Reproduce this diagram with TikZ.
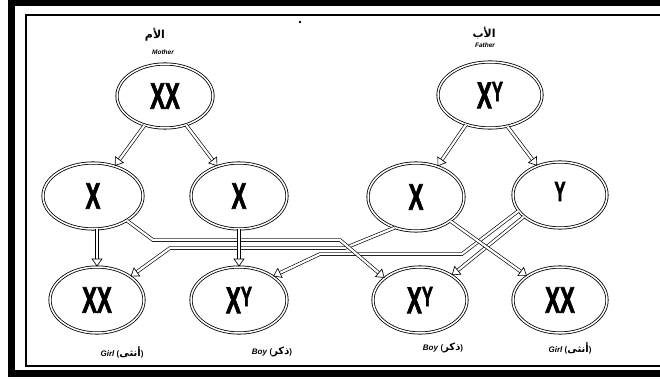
\documentclass[tikz,border=0pt]{standalone}
\usepackage{fontspec}
\usepackage{graphicx}
\setmainfont{Liberation Sans}
\newfontfamily\arabicfont[Script=Arabic]{DejaVu Sans}
\newfontfamily\chromfont[FakeBold=2.5]{Liberation Sans Bold}
\usetikzlibrary{shapes.geometric,arrows.meta}
\TeXXeTstate=1
\newcommand{\chrom}[1]{\scalebox{0.6}[1]{\fontsize{37}{37}\chromfont #1}}
\newcommand{\chrY}{\raisebox{7pt}{\fontsize{28}{28}\chromfont Y}}
\newcommand{\arw}[1]{{\arabicfont\bfseries\beginR #1\endR}}
\begin{document}
\begin{tikzpicture}[x=1pt,y=-1pt,
  cell/.style={ellipse, draw=black, line width=0.8pt, double=white, double distance=1.5pt, inner sep=0pt},
  conn/.style={draw=black, line width=0.65pt, double=white, double distance=2.2pt, -{Triangle[open,length=8pt,width=11pt]}},
  ar/.style={font=\fontsize{11}{12}\selectfont},
  en/.style={font=\bfseries\itshape\fontsize{6.5}{7}\selectfont},
  lab/.style={font=\bfseries\fontsize{8}{9}\selectfont}]
\useasboundingbox (0,0) rectangle (660,379);
% frame
\fill (8,2) rectangle (15,377);
\fill (8,0) rectangle (660,6);
\fill (8,370) rectangle (660,377);
\draw[line width=1.2pt] (660,15) -- (26,15) -- (26,366) -- (660,366);
\fill (300,22) circle (1.3pt);
% labels
\node[ar] (arM) at (155,35) {\arw{الأم}};
\node[en] (enM) at (163,52) {Mother};
\node[ar] (arF) at (484,33) {\arw{الأب}};
\node[en] (enF) at (485,45) {Father};
% cells
\node[cell, minimum width=96pt, minimum height=64pt] (mxx) at (165,96) {\chrom{XX}};
\node[cell, minimum width=104pt, minimum height=66pt] (fxy) at (490,95) {\chrom{X\chrY}};
\node[cell, minimum width=100pt, minimum height=66pt] (mx1) at (93,196) {\chrom{X}};
\node[cell, minimum width=96pt, minimum height=66pt] (mx2) at (239,196) {\chrom{X}};
\node[cell, minimum width=96pt, minimum height=68pt] (fx) at (416,197) {\chrom{X}};
\node[cell, minimum width=94pt, minimum height=66pt] (fy) at (560,195) {\chrom{\chrY}};
\node[cell, minimum width=94pt, minimum height=66pt] (g1) at (97,300) {\chrom{XX}};
\node[cell, minimum width=96pt, minimum height=66pt] (b1) at (239,300) {\chrom{X\chrY}};
\node[cell, minimum width=94pt, minimum height=66pt] (b2) at (420,300) {\chrom{X\chrY}};
\node[cell, minimum width=94pt, minimum height=66pt] (g2) at (560,300) {\chrom{XX}};
% bottom labels
\node[lab] (lg1) at (122,352) {\textit{Girl} ({\fontsize{10}{10}\selectfont\arw{أنثى}})};
\node[lab] (lb1) at (272,352) {\textit{Boy} ({\fontsize{10}{10}\selectfont\arw{ذكر}})};
\node[lab] (lb2) at (443,348) {\textit{Boy} ({\fontsize{10}{10}\selectfont\arw{ذكر}})};
\node[lab] (lg2) at (570,348) {\textit{Girl} ({\fontsize{10}{10}\selectfont\arw{أنثى}})};
% connectors
\draw[conn] (mxx.235) -- (mx1.54);
\draw[conn] (mxx.306) -- (mx2.126);
\draw[conn] (fxy.231) -- (fx.55);
\draw[conn] (fxy.299) -- (fy.128);
\draw[conn] (fy.201) -- (462,254) -- (320,254) -- (b1.35);
\draw[conn] (fx.235) -- (345,248) -- (170,248) -- (g1.35);
\draw[conn] (mx1.324) -- (153,240) -- (340,240) -- (b2.148);
\draw[conn] (fy.211) -- (b2.38);
\draw[conn] (fx.325) -- (g2.144);
\draw[conn] (g1.north |- mx1.south) -- (g1.north);
\draw[conn] (mx2.south) -- (b1.north);
\end{tikzpicture}
\end{document}
